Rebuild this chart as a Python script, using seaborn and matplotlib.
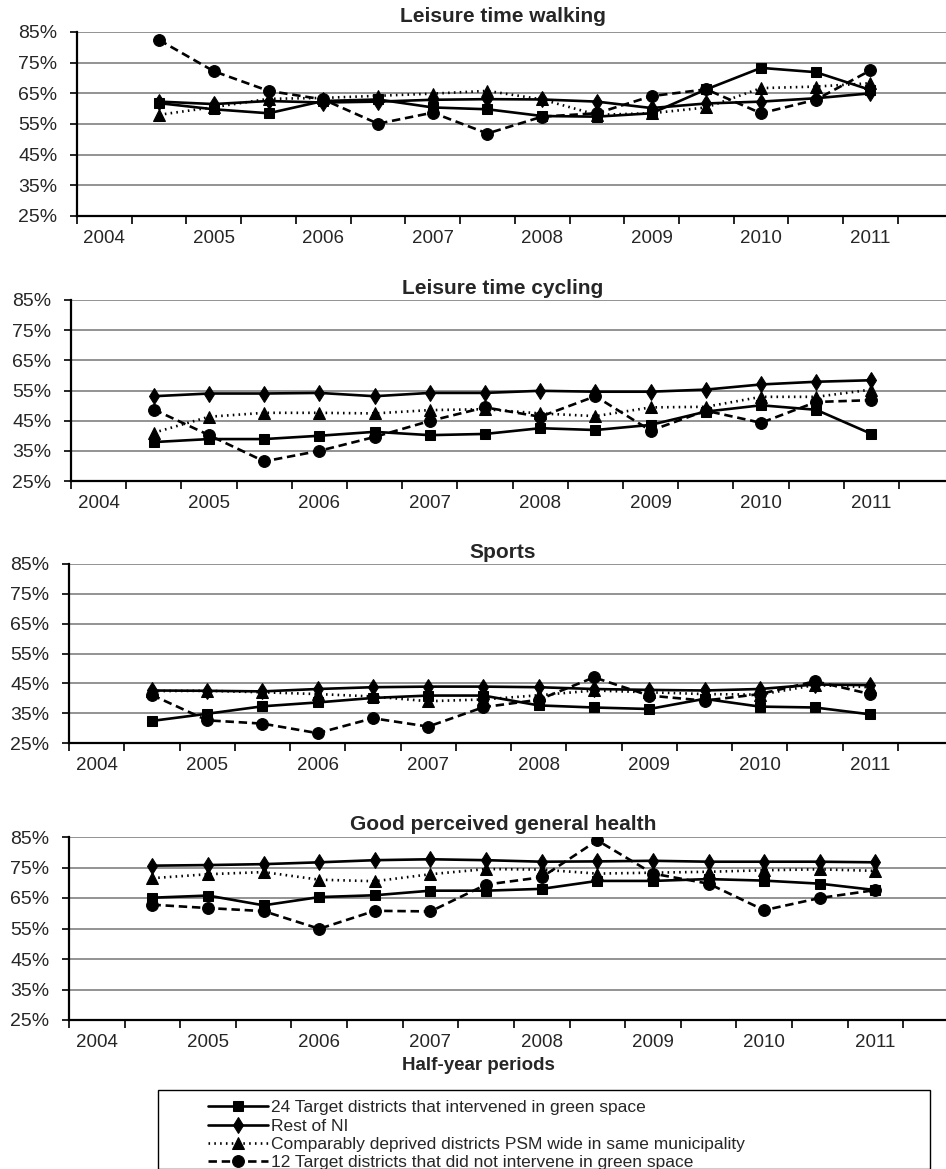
import matplotlib
matplotlib.use("Agg")
import matplotlib.pyplot as plt
from matplotlib.patches import Rectangle
import pandas as pd
import seaborn as sns

# Half-year slots on the category axis (slot 0 is the empty 2004 slot)
slots = list(range(1, 15))
year_labels = ["2004", "2005", "2006", "2007", "2008", "2009", "2010", "2011"]
year_slots = [0, 2, 4, 6, 8, 10, 12, 14]
y_ticks = [25, 35, 45, 55, 65, 75, 85]

series = [
    "24 Target districts that intervened in green space",
    "Rest of NI",
    "Comparably deprived districts PSM wide in same municipality",
    "12 Target districts that did not intervene in green space",
]

# Leisure time walking (%)
walk_target = [61.8, 59.8, 58.5, 62.5, 63.0, 60.4, 59.8, 57.6, 57.4, 58.5, 66.3, 73.3, 71.9, 66.1]
walk_rest = [62.3, 61.5, 62.5, 62.0, 62.3, 62.9, 63.1, 63.0, 62.3, 60.2, 61.7, 62.3, 63.4, 65.0]
walk_psm = [58.0, 60.5, 63.2, 63.5, 64.2, 64.9, 65.8, 63.0, 58.0, 58.5, 60.4, 66.7, 67.2, 68.3]
walk_nonint = [82.4, 72.2, 65.8, 63.0, 55.1, 58.7, 51.9, 57.4, 58.5, 64.1, 66.3, 58.5, 62.9, 72.5]

# Leisure time cycling (%)
cyc_target = [37.9, 38.9, 38.9, 40.0, 41.3, 40.2, 40.6, 42.5, 41.9, 43.6, 48.0, 50.1, 48.6, 40.6]
cyc_rest = [53.1, 54.0, 54.0, 54.2, 53.1, 54.2, 54.2, 54.9, 54.6, 54.6, 55.3, 57.0, 57.9, 58.4]
cyc_psm = [41.0, 46.3, 47.6, 47.6, 47.4, 48.5, 48.8, 47.4, 46.5, 49.4, 49.6, 52.9, 52.9, 55.3]
cyc_nonint = [48.7, 40.2, 31.5, 35.0, 39.6, 44.9, 49.4, 46.3, 53.1, 41.7, 48.3, 44.3, 51.2, 51.8]

# Sports (%)
sport_target = [32.4, 34.8, 37.3, 38.6, 40.1, 40.9, 40.9, 37.6, 36.9, 36.4, 39.8, 37.2, 36.9, 34.6]
sport_rest = [42.6, 42.5, 42.3, 43.1, 43.7, 43.9, 43.9, 43.7, 43.1, 42.8, 42.6, 43.1, 44.6, 44.4]
sport_psm = [42.4, 42.5, 42.0, 41.4, 40.6, 39.0, 39.6, 41.0, 42.6, 42.0, 41.4, 41.2, 44.4, 43.7]
sport_nonint = [41.1, 32.6, 31.5, 28.3, 33.3, 30.5, 37.0, 39.5, 47.0, 40.9, 39.2, 41.4, 45.7, 41.4]

# Good perceived general health (%)
health_target = [65.1, 65.8, 62.6, 65.3, 65.9, 67.4, 67.4, 68.0, 70.6, 70.6, 71.2, 70.7, 69.7, 67.6]
health_rest = [75.6, 75.8, 76.1, 76.7, 77.4, 77.7, 77.4, 76.9, 77.0, 77.2, 76.9, 76.9, 76.9, 76.7]
health_psm = [71.5, 72.8, 73.5, 71.0, 70.5, 72.8, 74.5, 74.3, 73.0, 73.3, 73.6, 74.1, 74.4, 73.9]
health_nonint = [62.8, 61.7, 60.7, 54.9, 60.8, 60.6, 69.4, 71.8, 83.9, 73.0, 69.7, 61.0, 65.0, 67.6]

panels = [
    ("Leisure time walking", [walk_target, walk_rest, walk_psm, walk_nonint]),
    ("Leisure time cycling", [cyc_target, cyc_rest, cyc_psm, cyc_nonint]),
    ("Sports", [sport_target, sport_rest, sport_psm, sport_nonint]),
    ("Good perceived general health", [health_target, health_rest, health_psm, health_nonint]),
]

markers = {series[0]: "s", series[1]: "d", series[2]: "^", series[3]: "o"}
dashes = {series[0]: "", series[1]: "", series[2]: (0.6, 1.6), series[3]: (3.2, 1.8)}
msizes = {series[0]: 7.5, series[1]: 8, series[2]: 8, series[3]: 8.5}

W, H = 946, 1169
# pixel layout of each panel: left spine, top (85%), bottom (25%), right x-limit, title y
layout = [
    (77, 32, 216, 15.38, 17),
    (71, 300, 481, 15.35, 289),
    (69, 564, 743, 15.37, 552),
    (69, 837, 1020, 15.27, 824),
]

sns.set_theme(style="white")
plt.rcParams["font.family"] = ["Liberation Sans", "DejaVu Sans"]

fig = plt.figure(figsize=(W / 100, H / 100), dpi=100)

for (title, values), (left, top, bottom, xr, ty) in zip(panels, layout):
    ax = fig.add_axes([left / W, 1 - bottom / H, (W - left) / W, (bottom - top) / H])
    df = pd.DataFrame({
        "slot": slots * 4,
        "value": [v for vals in values for v in vals],
        "group": [s for s in series for _ in slots],
    })
    for name in series:
        sub = df[df["group"] == name]
        sns.lineplot(data=sub, x="slot", y="value", ax=ax, color="black",
                     marker=markers[name], markersize=msizes[name],
                     markeredgecolor="black", markerfacecolor="black",
                     linewidth=1.9, label=name, legend=False,
                     dashes=False, zorder=3)
        line = ax.lines[-1]
        if dashes[name]:
            line.set_dashes(dashes[name])
    ax.set_xlim(-0.5, xr)
    ax.set_ylim(25, 85)
    ax.set_yticks(y_ticks)
    ax.set_yticklabels([f"{t}%" for t in y_ticks])
    ax.yaxis.grid(True, color="#8a8a8a", linewidth=1.3, zorder=0)
    ax.set_axisbelow(True)
    # tick marks at slot boundaries, year labels centred on every other slot
    ax.set_xticks([i - 0.5 for i in range(16)])
    ax.set_xticklabels([])
    ax.set_xticks(year_slots, minor=True)
    ax.set_xticklabels(year_labels, minor=True)
    ax.tick_params(axis="x", which="major", direction="out", length=6, width=1.2,
                   color="black", bottom=True)
    ax.tick_params(axis="x", which="minor", length=0, pad=10, labelsize=13.5)
    ax.tick_params(axis="y", direction="out", length=5, width=1.2, color="black",
                   left=True, pad=9, labelsize=14)
    ax.set_xlabel("")
    ax.set_ylabel("")
    for side in ("top", "right"):
        ax.spines[side].set_visible(False)
    for side in ("left", "bottom"):
        ax.spines[side].set_color("black")
        ax.spines[side].set_linewidth(1.6)
    fig.text(503 / W, 1 - ty / H, title, ha="center", va="center",
             fontsize=15, fontweight="bold")
    last_ax = ax

fig.text(478 / W, 1 - 1066 / H, "Half-year periods", ha="center", va="center",
         fontsize=13.5, fontweight="bold")

# legend box
fig.patches.append(Rectangle((158 / W, 0), (930 - 158) / W, 1 - 1090 / H,
                             transform=fig.transFigure, fill=False,
                             edgecolor="black", linewidth=1.0))
handles = last_ax.lines[:4]
leg = fig.legend(handles, series, loc="upper left",
                 bbox_to_anchor=(196 / W, 1 - 1088 / H), frameon=False,
                 fontsize=12.5, handlelength=3.45, handletextpad=0.17,
                 labelspacing=0.18, borderpad=0.2)

fig.savefig("out.png", dpi=100)
